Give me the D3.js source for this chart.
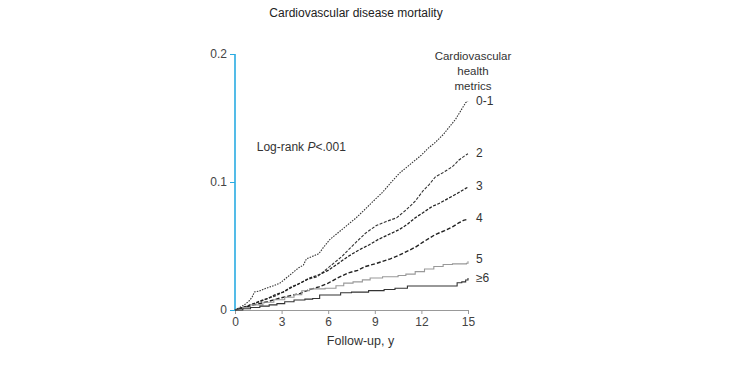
<!DOCTYPE html>
<html>
<head>
<meta charset="utf-8">
<script src="https://cdn.jsdelivr.net/npm/d3@7"></script>
<style>
  body { margin: 0; background: white; }
  text { font-family: "Liberation Sans", Arial, sans-serif; }
</style>
</head>
<body>
<div id="wykres"></div>
<script>
// Kaplan-Meier curves, cumulative CVD mortality by number of health metrics
var grupy = ["0-1", "2", "3", "4", "5", "\u22656"];

var lata_01 = [0, 0.3, 0.6, 0.9, 1.1, 1.25, 1.6, 2.0, 2.5, 2.9, 3.2, 3.5, 3.8, 4.1, 4.4, 4.6, 5.0, 5.4, 5.7, 6.1, 6.5, 6.9, 7.3, 7.8, 8.4, 8.9, 9.5, 10.0, 10.6, 11.1, 11.6, 12.0, 12.4, 12.9, 13.4, 13.8, 14.2, 14.5, 14.85, 15];
var smier_01 = [0, 0.002, 0.004, 0.007, 0.010, 0.014, 0.015, 0.017, 0.019, 0.021, 0.024, 0.027, 0.030, 0.033, 0.035, 0.040, 0.042, 0.044, 0.049, 0.055, 0.059, 0.063, 0.067, 0.072, 0.079, 0.085, 0.092, 0.099, 0.107, 0.112, 0.117, 0.121, 0.126, 0.131, 0.137, 0.143, 0.149, 0.155, 0.162, 0.163];

var lata_2 = [0, 0.5, 1.0, 1.5, 2.1, 2.6, 3.1, 3.6, 4.2, 4.7, 5.3, 5.7, 6.0, 6.4, 6.9, 7.3, 7.8, 8.4, 9.1, 9.7, 10.4, 11.0, 11.6, 12.1, 12.5, 12.9, 13.35, 14.0, 14.4, 14.85, 15];
var smier_2 = [0, 0.002, 0.004, 0.006, 0.009, 0.011, 0.014, 0.018, 0.021, 0.024, 0.026, 0.030, 0.033, 0.037, 0.042, 0.047, 0.053, 0.060, 0.066, 0.069, 0.072, 0.078, 0.085, 0.093, 0.098, 0.104, 0.107, 0.112, 0.117, 0.121, 0.122];

var lata_3 = [0, 0.5, 1.0, 1.6, 2.1, 2.6, 3.1, 3.7, 4.2, 4.8, 5.3, 6.0, 6.6, 7.3, 8.0, 8.65, 9.2, 9.9, 10.6, 11.1, 11.6, 12.1, 12.7, 13.1, 13.7, 14.3, 14.85, 15];
var smier_3 = [0, 0.002, 0.004, 0.007, 0.009, 0.012, 0.014, 0.018, 0.021, 0.025, 0.027, 0.031, 0.036, 0.042, 0.047, 0.051, 0.055, 0.059, 0.063, 0.067, 0.072, 0.076, 0.081, 0.083, 0.087, 0.091, 0.095, 0.096];

var lata_4 = [0, 0.6, 1.2, 2.1, 2.8, 3.5, 4.2, 4.8, 5.4, 6.0, 6.6, 7.3, 7.9, 8.4, 9.0, 9.5, 10.0, 10.6, 11.1, 11.6, 12.1, 12.5, 12.9, 13.5, 14.0, 14.4, 14.7, 15];
var smier_4 = [0, 0.002, 0.004, 0.0065, 0.009, 0.011, 0.013, 0.016, 0.018, 0.021, 0.025, 0.029, 0.031, 0.034, 0.036, 0.038, 0.040, 0.043, 0.046, 0.049, 0.053, 0.056, 0.059, 0.062, 0.065, 0.068, 0.070, 0.071];

var lata_5 = [0, 0.5, 1.0, 1.8, 2.5, 3.2, 3.8, 4.3, 4.8, 5.8, 6.5, 7.0, 7.6, 8.2, 8.7, 9.5, 10.5, 11.0, 11.6, 12.2, 12.8, 13.4, 14.0, 14.9, 15];
var smier_5 = [0, 0.002, 0.004, 0.006, 0.008, 0.010, 0.012, 0.015, 0.0165, 0.017, 0.019, 0.021, 0.022, 0.0235, 0.025, 0.026, 0.027, 0.028, 0.030, 0.032, 0.034, 0.0355, 0.036, 0.0365, 0.038];

var lata_6 = [0, 0.5, 1.0, 1.6, 2.2, 2.7, 3.2, 3.8, 4.5, 5.0, 5.45, 6.8, 7.5, 8.6, 9.6, 10.3, 11.1, 14.3, 14.6, 14.85, 15];
var smier_6 = [0, 0.001, 0.002, 0.003, 0.004, 0.005, 0.0065, 0.0078, 0.0085, 0.009, 0.0117, 0.0135, 0.014, 0.0151, 0.016, 0.017, 0.0188, 0.0213, 0.022, 0.0234, 0.025];

var xTicks = [0, 3, 6, 9, 12, 15];
var yTicks = [0, 0.1, 0.2];

var lata = [lata_01, lata_2, lata_3, lata_4, lata_5, lata_6];
var smier = [smier_01, smier_2, smier_3, smier_4, smier_5, smier_6];

var serie = grupy.map(function (g, i) {
  return {
    nazwa: g,
    punkty: lata[i].map(function (t, j) { return { t: t, v: smier[i][j] }; })
  };
});

// dotted/dashed curves look jagged-diagonal, the two solid ones are clear steps
var styl = [
  { kolor: "#333", dash: "1.5,1.2", szer: 1.1, schody: false },
  { kolor: "#333", dash: "3,1.5", szer: 1.1, schody: false },
  { kolor: "#222", dash: "3,1.5", szer: 1.3, schody: false },
  { kolor: "#222", dash: "4,2", szer: 1.4, schody: false },
  { kolor: "#999", dash: null, szer: 1.1, schody: true },
  { kolor: "#333", dash: null, szer: 1.1, schody: true }
];

var margin = { top: 54, right: 262, bottom: 62, left: 235 },
  width = 730 - margin.left - margin.right,
  height = 372 - margin.top - margin.bottom;

var svg = d3.select("#wykres")
  .append("svg")
  .attr("width", 730)
  .attr("height", 372)
  .style("background", "white")
  .append("g")
  .attr("transform", "translate(" + margin.left + "," + margin.top + ")");

var xscale = d3.scaleLinear().domain([0, 15]).range([0, width]);
var yscale = d3.scaleLinear().domain([0, 0.2]).range([height, 0]);

// x axis (gray)
var xAxis = svg.append("g")
  .attr("transform", "translate(0," + height + ")")
  .call(d3.axisBottom(xscale).tickValues(xTicks).tickSize(4).tickPadding(3).tickFormat(d3.format("d")));
xAxis.select(".domain").attr("stroke", "#999").attr("d", "M0,0.5H" + width);
xAxis.selectAll(".tick line").attr("stroke", "#999");
xAxis.selectAll("text").style("font-size", "12px").attr("fill", "#444");

// y axis (cyan)
var yAxis = svg.append("g")
  .call(d3.axisLeft(yscale).tickValues(yTicks).tickSize(5).tickPadding(3)
    .tickFormat(function (d) { return d === 0 ? "0" : d3.format(".1f")(d); }));
yAxis.select(".domain").attr("stroke", "#29abe2").attr("stroke-width", 1.6)
  .attr("d", "M0," + yscale(0.2) + "V" + height);
yAxis.selectAll(".tick line").attr("stroke", "#29abe2");
yAxis.selectAll("text").style("font-size", "12px").attr("fill", "#444");

var liniaSchody = d3.line()
  .curve(d3.curveStepAfter)
  .x(function (d) { return xscale(d.t); })
  .y(function (d) { return yscale(d.v); });

var liniaProsta = d3.line()
  .x(function (d) { return xscale(d.t); })
  .y(function (d) { return yscale(d.v); });

svg.selectAll(".kreska")
  .data(serie)
  .enter().append("path")
  .attr("class", "kreska")
  .attr("fill", "none")
  .attr("stroke", function (d, i) { return styl[i].kolor; })
  .attr("stroke-width", function (d, i) { return styl[i].szer; })
  .attr("stroke-dasharray", function (d, i) { return styl[i].dash; })
  .attr("d", function (d, i) { return styl[i].schody ? liniaSchody(d.punkty) : liniaProsta(d.punkty); });

// curve labels
var przesun = [-1, -1, -1, -1, -3, 0];
svg.selectAll(".etykieta")
  .data(serie)
  .enter().append("text")
  .attr("class", "etykieta")
  .attr("x", width + 8)
  .attr("y", function (d, i) { return yscale(d.punkty[d.punkty.length - 1].v) + przesun[i]; })
  .attr("dy", "0.35em")
  .style("font-size", "12px")
  .attr("fill", "#333")
  .text(function (d) { return d.nazwa; });

// legend heading
var naglowek = ["Cardiovascular", "health", "metrics"];
svg.append("text")
  .attr("x", width + 5)
  .attr("y", 6)
  .attr("text-anchor", "middle")
  .style("font-size", "11.5px")
  .attr("fill", "#333")
  .selectAll("tspan")
  .data(naglowek)
  .enter().append("tspan")
  .attr("x", width + 5)
  .attr("dy", function (d, i) { return i === 0 ? 0 : 15; })
  .text(function (d) { return d; });

// log-rank note
var logrank = svg.append("text")
  .attr("x", xscale(1.4))
  .attr("y", yscale(0.124))
  .style("font-size", "12px")
  .attr("fill", "#333");
logrank.append("tspan").text("Log-rank ");
logrank.append("tspan").style("font-style", "italic").text("P");
logrank.append("tspan").text("<.001");

// axis title
svg.append("text")
  .attr("x", width / 2 + 9)
  .attr("y", height + 35)
  .attr("text-anchor", "middle")
  .style("font-size", "12.5px")
  .attr("fill", "#333")
  .text("Follow-up, y");

// chart title
svg.append("text")
  .attr("x", 356 - margin.left)
  .attr("y", 17 - margin.top)
  .attr("text-anchor", "middle")
  .style("font-size", "12px")
  .attr("fill", "#222")
  .text("Cardiovascular disease mortality");
</script>
</body>
</html>
